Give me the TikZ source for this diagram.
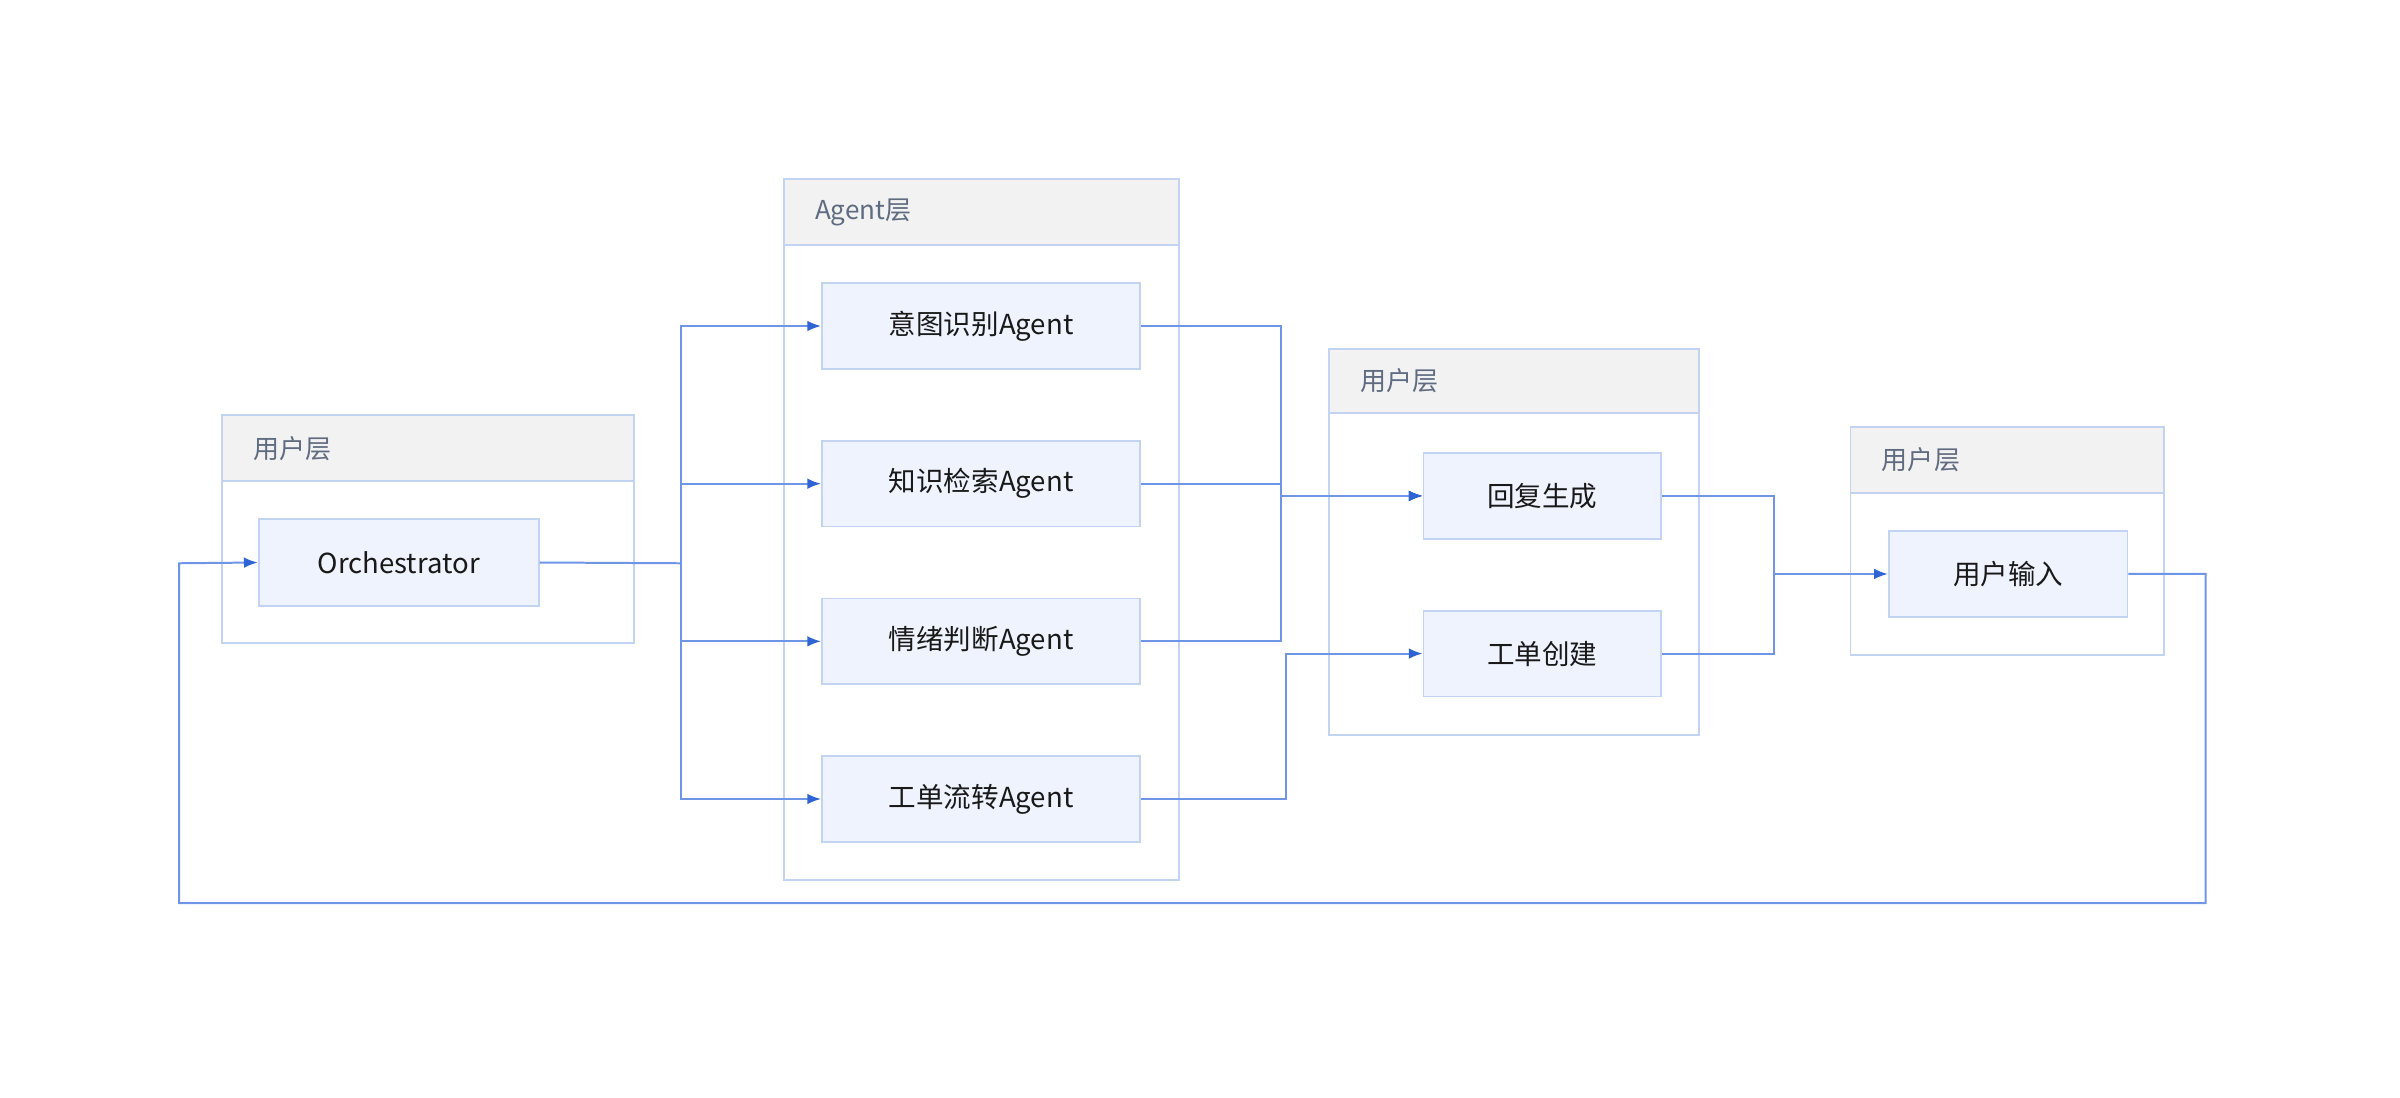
\documentclass[tikz,border=0pt]{standalone}
\usepackage{fontspec}
\setmainfont{Noto Sans CJK SC}
\usetikzlibrary{arrows.meta}
\definecolor{bd}{HTML}{C3D3F2}
\definecolor{nf}{HTML}{EEF3FD}
\definecolor{hf}{HTML}{F2F2F2}
\definecolor{ht}{HTML}{5F6B80}
\definecolor{ln}{HTML}{6F95E6}
\definecolor{ah}{HTML}{2F64D6}
\begin{document}
\begin{tikzpicture}[x=1pt,y=-1pt,
  box/.style={draw=bd,line width=1.2pt,fill=nf,minimum width=#1,inner sep=0pt,font=\fontsize{18}{20}\selectfont,text=black!90},
  grp/.style={draw=bd,line width=1.2pt,fill=white},
  hdr/.style={draw=bd,line width=1.2pt,fill=hf},
  ht/.style={anchor=west,text=ht,font=\fontsize{17}{19}\selectfont},
  e/.style={draw=ln,line width=1.3pt,-{Latex[length=9pt,width=7pt,color=ah]}},
  l/.style={draw=ln,line width=1.3pt}]
\useasboundingbox (0,0) rectangle (1568,717);
% groups
\draw[grp] (145,271) rectangle (414,420); \draw[hdr] (145,271) rectangle (414,314);
\node[ht] (g1) at (162,293) {用户层};
\draw[grp] (512,117) rectangle (770,575); \draw[hdr] (512,117) rectangle (770,160);
\node[ht] (g2) at (529,139) {Agent层};
\draw[grp] (868,228) rectangle (1110,480); \draw[hdr] (868,228) rectangle (1110,270);
\node[ht] (g3) at (885,249) {用户层};
\draw[grp] (1209,279) rectangle (1414,428); \draw[hdr] (1209,279) rectangle (1414,322);
\node[ht] (g4) at (1226,300) {用户层};
% nodes
\node[box=183pt,minimum height=57pt] (orc) at (260.5,367.5) {Orchestrator};
\node[box=208pt,minimum height=56pt] (a1) at (641,213) {意图识别Agent};
\node[box=208pt,minimum height=56pt] (a2) at (641,316) {知识检索Agent};
\node[box=208pt,minimum height=56pt] (a3) at (641,419) {情绪判断Agent};
\node[box=208pt,minimum height=56pt] (a4) at (641,522) {工单流转Agent};
\node[box=155pt,minimum height=56pt] (r) at (1007.5,324) {回复生成};
\node[box=155pt,minimum height=56pt] (t) at (1007.5,427) {工单创建};
\node[box=156pt,minimum height=56pt] (u) at (1312,375) {用户输入};
% edges
\coordinate (s1) at (445,368);
\draw[l] (orc.east) -- (s1);
\foreach \a in {a1,a2,a3,a4} \draw[e] (s1) |- (\a.west);
\foreach \a in {a1,a2,a3} \draw[e] (\a.east) -| (837,324) -- (r.west);
\draw[e] (a4.east) -| (840,427) -- (t.west);
\draw[e] (r.east) -| (1159,375) -- (u.west);
\draw[l] (t.east) -| (1159,375);
\draw[e] (u.east) -| (1441,590) -| (117,368) -- (orc.west);
\end{tikzpicture}
\end{document}
